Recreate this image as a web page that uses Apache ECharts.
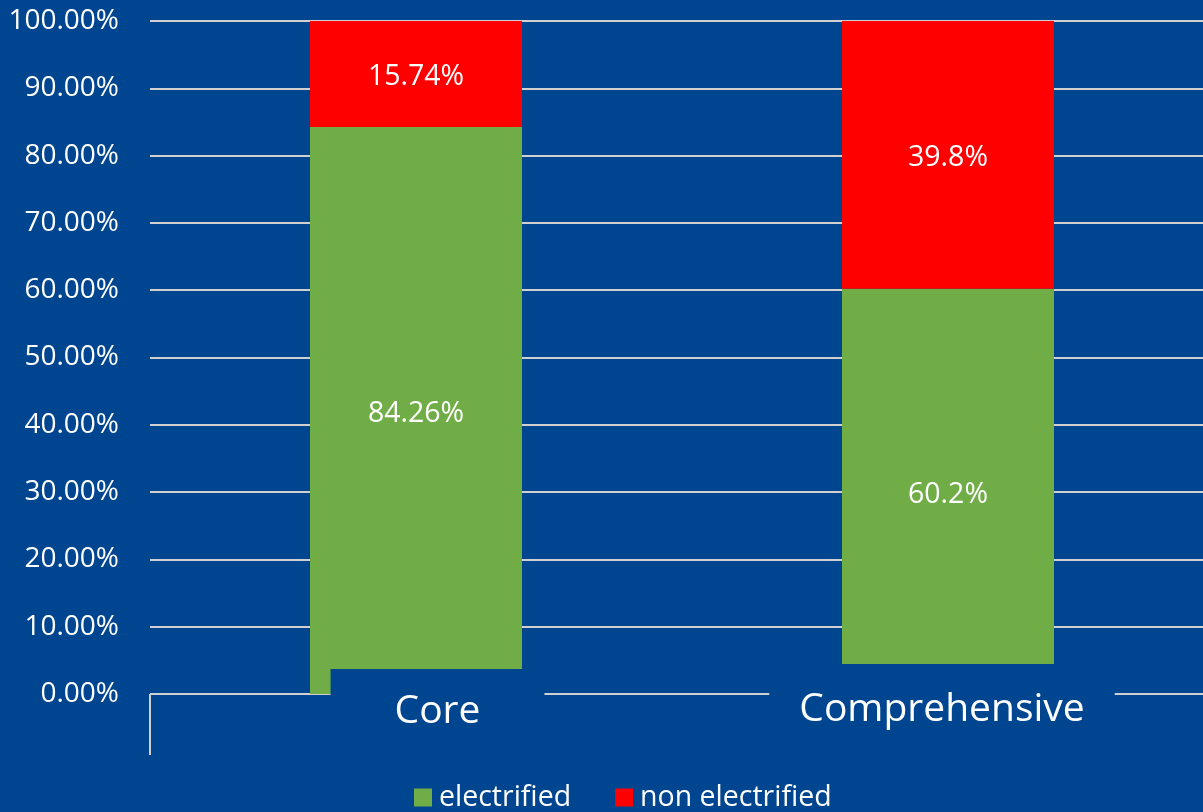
<!DOCTYPE html>
<html>
<head>
<meta charset="utf-8">
<script src="https://cdn.jsdelivr.net/npm/echarts@6/dist/echarts.min.js"></script>
<style>
html,body{margin:0;padding:0;background:#00458F;}
#c{width:1203px;height:812px;}
</style>
</head>
<body>
<div id="c"></div>
<script>
const categories = ['Core', 'Comprehensive'];
const electrified = [84.26, 60.2];
const nonElectrified = [15.74, 39.8];
const seriesNames = ['electrified', 'non electrified'];

const BG = '#00458F';
const FONT = 'Open Sans';
const chart = echarts.init(document.getElementById('c'));

const labelStyle = {
  show: true,
  position: 'inside',
  offset: [0, 3],
  color: '#FFFFFF',
  fontFamily: FONT,
  fontSize: 28.5,
  formatter: p => p.value + '%'
};

chart.setOption({
  backgroundColor: BG,
  animation: false,
  grid: { left: 150, top: 21, width: 1064, height: 673, containLabel: false, outerBoundsMode: 'none' },
  legend: {
    data: seriesNames,
    left: 409,
    top: 778,
    icon: 'rect',
    itemWidth: 18,
    itemHeight: 18,
    itemGap: 44,
    textStyle: { color: '#FFFFFF', fontFamily: FONT, fontSize: 28.5, padding: [0, 0, 0, 2] }
  },
  xAxis: {
    type: 'category',
    data: categories,
    z: 5,
    axisLine: { show: false },
    axisTick: {
      show: true,
      length: 61,
      inside: false,
      interval: (idx) => idx === 0,
      lineStyle: { color: '#D0D0D0', width: 2 }
    },
    axisLabel: {
      margin: -37,
      interval: 0,
      formatter: (v) => v === 'Core' ? '{s|}{a|' + v + '}' : '{b|' + v + '}{t|}',
      rich: {
        s: { width: 43, height: 80 },
        t: { width: 12, height: 80 },
        a: {
          color: '#FFFFFF', fontFamily: FONT, fontSize: 39, lineHeight: 46,
          backgroundColor: BG, padding: [23, 64, 6, 64], verticalAlign: 'bottom'
        },
        b: {
          color: '#FFFFFF', fontFamily: FONT, fontSize: 39, lineHeight: 46,
          backgroundColor: BG, padding: [26, 30, 8, 30], verticalAlign: 'bottom'
        }
      }
    }
  },
  yAxis: {
    type: 'value',
    min: 0,
    max: 100,
    interval: 10,
    axisLine: { show: false },
    axisTick: { show: false },
    axisLabel: {
      color: '#FFFFFF', fontFamily: FONT, fontSize: 28, margin: 31,
      formatter: v => v.toFixed(2) + '%'
    },
    splitLine: { show: true, lineStyle: { color: '#D0D0D0', width: 2 } }
  },
  series: [
    {
      name: seriesNames[0], type: 'bar', stack: 'total', barWidth: 212,
      itemStyle: { color: '#70AD47' },
      label: labelStyle,
      data: electrified
    },
    {
      name: seriesNames[1], type: 'bar', stack: 'total', barWidth: 212,
      itemStyle: { color: '#FF0000' },
      label: labelStyle,
      data: nonElectrified
    }
  ]
});
</script>
</body>
</html>
